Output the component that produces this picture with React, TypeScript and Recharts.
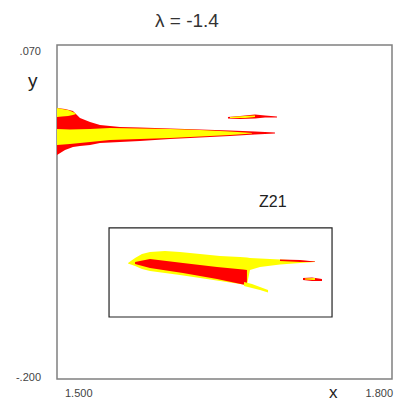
import { ComposedChart, Area, XAxis, YAxis, ReferenceArea } from "recharts";

// [x, yLow, yHigh] bands
const upperOuter = [
  [1.5, -0.0189, 0.0191],
  [1.5072, -0.0149, 0.0183],
  [1.5143, -0.0125, 0.0166],
  [1.5206, -0.0116, 0.011],
  [1.5296, -0.0108, 0.0078],
  [1.5385, -0.0092, 0.0053],
  [1.5564, -0.0084, 0.0037],
  [1.5743, -0.0076, 0.0033],
  [1.6012, -0.006, 0.0025],
  [1.6281, -0.0048, 0.0017],
  [1.6549, -0.0036, 0.0009],
  [1.6773, -0.0023, 0.0001],
  [1.6952, -0.0015, -0.0007],
];
const upperCore = [
  [1.5, -0.0108, 0.0021],
  [1.5116, -0.01, 0.0017],
  [1.5296, -0.0084, 0.0021],
  [1.5475, -0.0068, 0.0029],
  [1.5743, -0.006, 0.0025],
  [1.6012, -0.0052, 0.0021],
  [1.6281, -0.004, 0.0013],
  [1.6549, -0.0028, 0.0001],
  [1.6684, -0.0019, -0.0007],
  [1.6746, -0.0015, -0.0011],
];
const upperFringe = [
  [1.5, 0.0118, 0.0191],
  [1.5045, 0.0122, 0.0183],
  [1.5099, 0.0126, 0.0175],
  [1.5143, 0.0134, 0.0158],
  [1.517, 0.0142, 0.0146],
];
const streakOuter = [
  [1.6531, 0.0106, 0.0118],
  [1.6639, 0.0102, 0.0126],
  [1.6773, 0.0106, 0.0138],
  [1.6863, 0.0114, 0.013],
  [1.697, 0.0114, 0.0122],
];
const streakCore = [
  [1.6549, 0.011, 0.0118],
  [1.6684, 0.011, 0.0126],
  [1.6773, 0.0118, 0.013],
];
const lowerOuter = [
  [1.5636, -0.1066, -0.1062],
  [1.5699, -0.1086, -0.1022],
  [1.5761, -0.1111, -0.099],
  [1.5833, -0.1127, -0.0973],
  [1.5967, -0.1143, -0.0965],
  [1.6101, -0.1159, -0.0973],
  [1.6281, -0.1183, -0.099],
  [1.646, -0.1208, -0.1006],
  [1.6639, -0.1232, -0.1014],
  [1.6701, -0.124, -0.1018],
  [1.6728, -0.1119, -0.1022],
  [1.6818, -0.1095, -0.1026],
  [1.6997, -0.1074, -0.1034],
  [1.7176, -0.1062, -0.1042],
  [1.731, -0.1054, -0.105],
];
const lowerBand = [
  [1.5699, -0.107, -0.1054],
  [1.5833, -0.1103, -0.103],
  [1.6128, -0.1143, -0.1062],
  [1.6433, -0.1192, -0.1095],
  [1.6666, -0.1236, -0.1115],
  [1.6701, -0.124, -0.1119],
];
const lowerTip = [
  [1.6997, -0.1046, -0.1034],
  [1.7176, -0.1054, -0.1038],
  [1.731, -0.1054, -0.105],
];
const lowerTail = [
  [1.6675, -0.1248, -0.1216],
  [1.6746, -0.1264, -0.1232],
  [1.6818, -0.1281, -0.1256],
  [1.689, -0.1301, -0.1281],
];
const speckOuter = [
  [1.7203, -0.12, -0.1183],
  [1.7284, -0.1208, -0.1179],
  [1.7373, -0.1208, -0.1192],
];
const speckCore = [
  [1.7221, -0.1196, -0.1188],
  [1.731, -0.12, -0.1183],
];

const xTicks = [1.5, 1.8];
const yTicks = [-0.2, 0.07];
const zoomBox = { x1: 1.5466, x2: 1.7463, y1: -0.1499, y2: -0.0779 };

const RED = "#ff0000";
const YELLOW = "#ffff00";

// drawing order matters: later ones paint over
const bands = [
  { key: "upperOuter", rows: upperOuter, color: RED },
  { key: "upperCore", rows: upperCore, color: YELLOW },
  { key: "upperFringe", rows: upperFringe, color: YELLOW },
  { key: "streakOuter", rows: streakOuter, color: RED },
  { key: "streakCore", rows: streakCore, color: YELLOW },
  { key: "lowerOuter", rows: lowerOuter, color: YELLOW },
  { key: "lowerBand", rows: lowerBand, color: RED },
  { key: "lowerTip", rows: lowerTip, color: RED },
  { key: "lowerTail", rows: lowerTail, color: YELLOW },
  { key: "speckOuter", rows: speckOuter, color: RED },
  { key: "speckCore", rows: speckCore, color: YELLOW },
];

// merge every band into one table keyed on x; missing -> [null, null]
const xs = Array.from(
  new Set(bands.flatMap((b) => b.rows.map((r) => r[0])))
).sort((a, b) => a - b);
const data = xs.map((x) => {
  const row: any = { x };
  bands.forEach((b) => {
    const hit = b.rows.find((r) => r[0] === x);
    row[b.key] = hit ? [hit[1], hit[2]] : [null, null];
  });
  return row;
});

const fmt = (v: number) => v.toFixed(3).replace("0.", ".");

const YTick = ({ x, y, payload }: any) => (
  <text
    x={x - 16}
    y={y + (payload.value > 0 ? 7 : -1)}
    textAnchor="end"
    dominantBaseline="middle"
    fontSize={11}
    fill="#444"
  >
    {fmt(payload.value)}
  </text>
);

const XTick = ({ x, y, payload }: any) => {
  const first = payload.value === xTicks[0];
  return (
    <text
      x={first ? x + 8 : x + 1}
      y={y + 15}
      textAnchor={first ? "start" : "end"}
      dominantBaseline="middle"
      fontSize={11}
      fill="#444"
    >
      {payload.value.toFixed(3)}
    </text>
  );
};

const font = "Arial, 'Liberation Sans', sans-serif";

export default function App() {
  return (
    <div
      style={{
        position: "absolute",
        left: 0,
        top: 0,
        width: 417,
        height: 413,
        background: "#fff",
        fontFamily: font,
      }}
    >
      <ComposedChart
        width={417}
        height={413}
        data={data}
        margin={{ top: 45, right: 25, left: 0, bottom: 0 }}
      >
        <XAxis
          dataKey="x"
          type="number"
          domain={[1.5, 1.8]}
          ticks={xTicks}
          height={34}
          axisLine={false}
          tickLine={false}
          tickSize={0}
          tickMargin={0}
          tick={<XTick />}
          allowDataOverflow
        />
        <YAxis
          type="number"
          domain={[-0.2, 0.07]}
          ticks={yTicks}
          width={57}
          axisLine={false}
          tickLine={false}
          tickSize={0}
          tickMargin={0}
          tick={<YTick />}
          allowDataOverflow
        />
        <ReferenceArea
          x1={1.5}
          x2={1.8}
          y1={-0.2}
          y2={0.07}
          fill="none"
          stroke="#808080"
          strokeWidth={1.5}
        />
        {bands.map((b) => (
          <Area
            key={b.key}
            dataKey={b.key}
            type="linear"
            stroke="none"
            fill={b.color}
            fillOpacity={1}
            connectNulls
            dot={false}
            activeDot={false}
            isAnimationActive={false}
          />
        ))}
        <ReferenceArea
          {...zoomBox}
          fill="none"
          stroke="#222"
          strokeWidth={1.2}
        />
      </ComposedChart>
      <div style={{ position: "absolute", left: 155, top: 10, fontSize: 19, color: "#333" }}>
        λ = -1.4
      </div>
      <div style={{ position: "absolute", left: 28, top: 70, fontSize: 19, color: "#222" }}>
        y
      </div>
      <div style={{ position: "absolute", left: 329, top: 383, fontSize: 17, color: "#222" }}>
        x
      </div>
      <div style={{ position: "absolute", left: 259, top: 193, fontSize: 16, color: "#222" }}>
        Z21
      </div>
    </div>
  );
}
